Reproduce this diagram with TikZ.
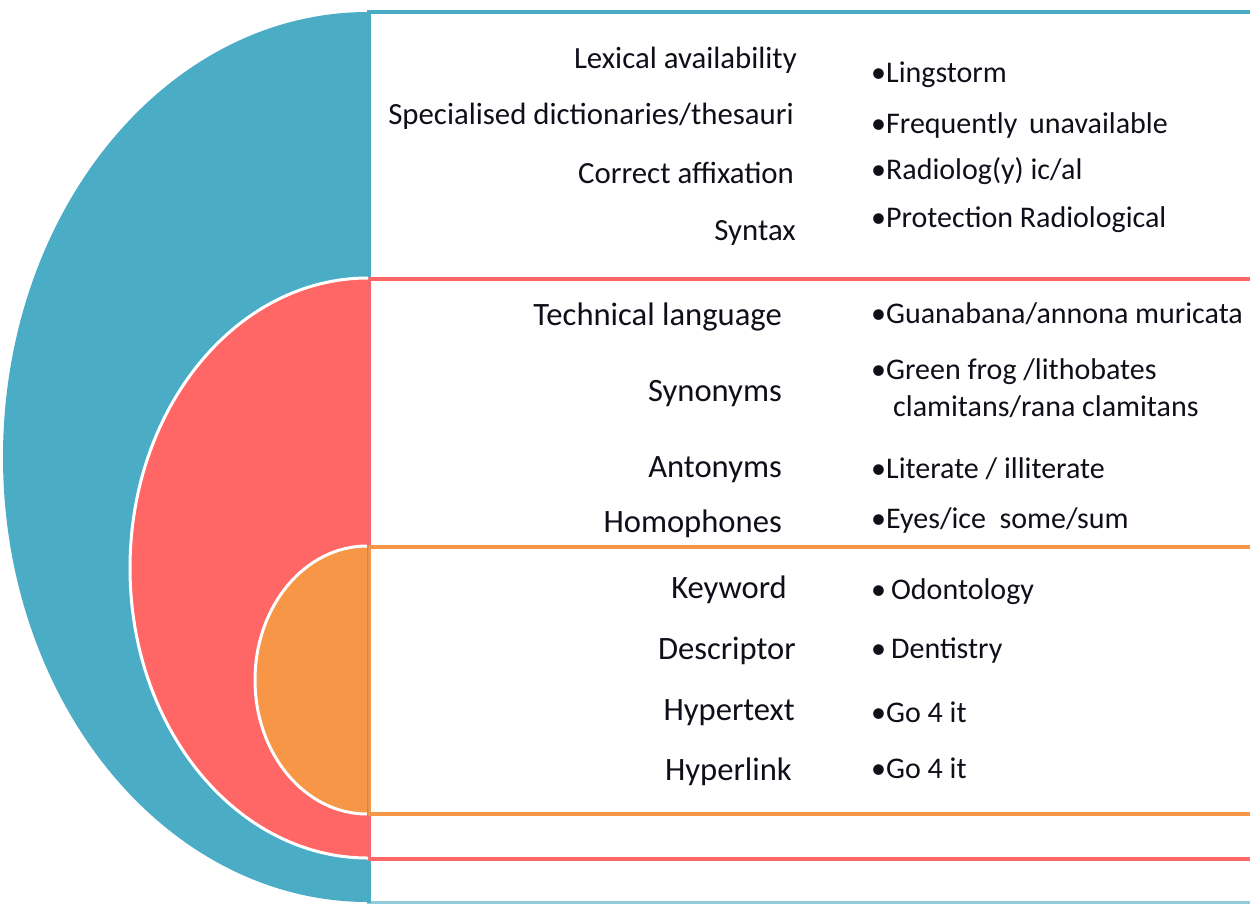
\documentclass[tikz,border=0pt]{standalone}
\usepackage{fontspec}
\setmainfont{Carlito}
\definecolor{cblue}{RGB}{75,172,198}
\definecolor{cred}{RGB}{255,102,102}
\definecolor{corange}{RGB}{247,150,70}
\definecolor{ctext}{RGB}{15,15,25}
\tikzset{
  lefttxt/.style={anchor=base east, inner sep=0pt, text=ctext, font=\fontsize{30.8}{36}\selectfont},
  righttxt/.style={anchor=base west, inner sep=0pt, text=ctext, font=\fontsize{30}{36}\selectfont},
  leftmid/.style={lefttxt, font=\fontsize{32.6}{38}\selectfont},
  rightmid/.style={righttxt, font=\fontsize{30}{36}\selectfont},
  halfedge/.style={line width=3pt, draw=white},
  framebox/.style={line width=4.5pt, fill=white}
}
\begin{document}
\begin{tikzpicture}[x=1pt,y=-1pt]
\useasboundingbox (0,0) rectangle (1250,903);
% boxes
\draw[framebox, draw=cblue!60] (369,12) rectangle (1270,903);
\draw[framebox, draw=cblue, fill=none] (369,903) -- (369,12) -- (1270,12);
\draw[framebox, draw=cred] (369,279) rectangle (1270,859);
\draw[framebox, draw=corange] (369,547) rectangle (1270,814);
% half discs
\fill[cblue] (368,12) arc[start angle=90, end angle=270, x radius=365pt, y radius=445pt] -- cycle;
\fill[cred] (368,278) arc[start angle=90, end angle=270, x radius=238pt, y radius=290pt] -- cycle;
\draw[halfedge] (368,278) arc[start angle=90, end angle=270, x radius=238pt, y radius=290pt];
\fill[corange] (367,546) arc[start angle=90, end angle=270, x radius=112pt, y radius=134pt] -- cycle;
\draw[halfedge] (367,546) arc[start angle=90, end angle=270, x radius=112pt, y radius=134pt];
\fill[cblue] (366,12) rectangle (370,276);
% top section
\node[lefttxt] (l1) at (797,68) {Lexical availability};
\node[lefttxt] (l2) at (794,124) {Specialised dictionaries/thesauri};
\node[lefttxt] (l3) at (794,183) {Correct affixation};
\node[lefttxt] (l4) at (796,240) {Syntax};
\node[righttxt] (r1) at (871,82) {•Lingstorm};
\node[righttxt] (r2) at (871,133) {•Frequently\, unavailable};
\node[righttxt] (r3) at (871,179) {•Radiolog(y) ic/al};
\node[righttxt] (r4) at (871,227) {•Protection Radiological};
% middle section
\node[leftmid] (m1) at (782,325) {Technical language};
\node[leftmid] (m2) at (782,401) {Synonyms};
\node[leftmid] (m3) at (782,477) {Antonyms};
\node[leftmid] (m4) at (782,532) {Homophones};
\node[rightmid] (n1) at (871,323) {•Guanabana/annona muricata};
\node[rightmid] (n2) at (871,379) {•Green frog /lithobates};
\node[rightmid] (n2b) at (893,416) {clamitans/rana clamitans};
\node[rightmid] (n3) at (871,478) {•Literate / illiterate};
\node[rightmid] (n4) at (871,528) {•Eyes/ice\ \ some/sum};
% bottom section
\node[leftmid] (b1) at (787,598) {Keyword};
\node[leftmid] (b2) at (796,659) {Descriptor};
\node[leftmid] (b3) at (795,720) {Hypertext};
\node[leftmid] (b4) at (792,780) {Hyperlink};
\node[rightmid] (c1) at (871,599) {•\,Odontology};
\node[rightmid] (c2) at (871,658) {•\,Dentistry};
\node[rightmid] (c3) at (871,722) {•Go 4 it};
\node[rightmid] (c4) at (871,778) {•Go 4 it};
\end{tikzpicture}
\end{document}
